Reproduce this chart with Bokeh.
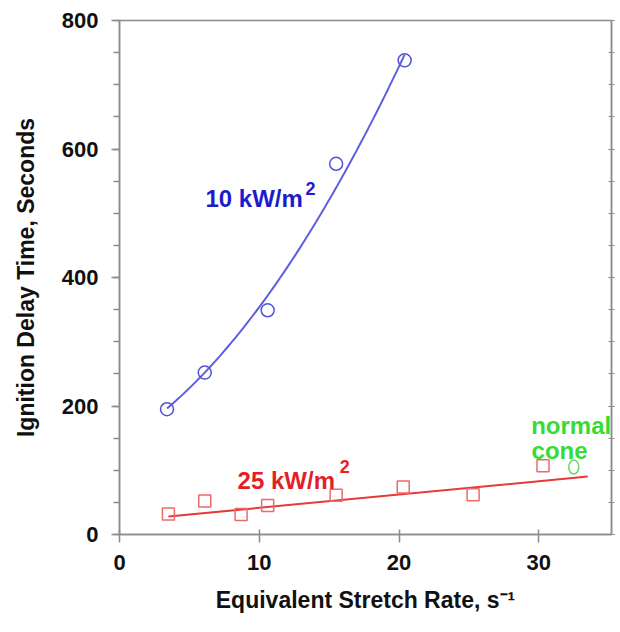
import numpy as np
from bokeh.plotting import figure
from bokeh.models import (LinearAxis, Range1d, SingleIntervalTicker, ColumnDataSource)
from bokeh.core.properties import value
from bokeh.embed import file_html
from bokeh.resources import INLINE

# ---- data ----
blue_x = [3.4, 6.1, 10.6, 15.5, 20.4]          # 10 kW/m2
blue_y = [195, 252, 349, 577, 738]
red_x = [3.5, 6.1, 8.7, 10.6, 15.5, 20.3, 25.3, 30.3]   # 25 kW/m2
red_y = [32, 52, 31, 45, 61, 74, 62, 107]
green_x = [32.5]                                 # normal cone
green_y = [105]

# fitted curves shown in the reference (coefficients, highest power first)
blue_fit = [0.814, 13.03, 142.3]
blue_fit_range = [3.4, 20.4]
red_fit = [2.07, 20.8]
red_fit_range = [3.5, 33.5]

x_ticks = [0, 10, 20, 30]
y_ticks = [0, 200, 400, 600, 800]

FONT = "Liberation Sans"
BLUE_TXT = "#1c1ccc"
RED_TXT = "#e41e26"
GREEN_TXT = "#35dc35"

p = figure(width=620, height=632, x_range=Range1d(0, 35.2), y_range=Range1d(0, 800),
           output_backend="svg", toolbar_location=None,
           min_border_left=119, min_border_top=20, min_border_right=9, min_border_bottom=98,
           background_fill_color="white", border_fill_color="white")
p.xgrid.visible = False
p.ygrid.visible = False
p.outline_line_color = "#8c8c8c"
p.outline_line_width = 1.5

AX = "#8c8c8c"
xa = p.xaxis[0]
xa.ticker = SingleIntervalTicker(interval=10, num_minor_ticks=0)
ya = p.yaxis[0]
ya.ticker = SingleIntervalTicker(interval=200, num_minor_ticks=4)

for ax in (xa, ya):
    ax.axis_line_color = AX
    ax.axis_line_width = 1.5
    ax.major_tick_line_color = AX
    ax.major_tick_line_width = 1.5
    ax.minor_tick_line_color = AX
    ax.minor_tick_line_width = 1.5
    ax.major_label_text_font = FONT
    ax.major_label_text_font_style = "bold"
    ax.major_label_text_font_size = "22px"
    ax.major_label_text_color = "#111111"
    ax.axis_label_text_font = FONT
    ax.axis_label_text_font_style = "bold"
    ax.axis_label_text_font_size = "23px"
    ax.axis_label_text_color = "#111111"

xa.major_tick_in = 5
xa.major_tick_out = 8
xa.major_label_standoff = 12
xa.axis_label = "Equivalent Stretch Rate, s\u207b\u00b9"
xa.axis_label_standoff = 14

ya.major_tick_in = 0
ya.major_tick_out = 8
ya.minor_tick_in = 0
ya.minor_tick_out = 6
ya.major_label_standoff = 13
ya.axis_label = "Ignition Delay Time, Seconds"
ya.axis_label_standoff = 20

ra = LinearAxis(ticker=SingleIntervalTicker(interval=200, num_minor_ticks=4))
ra.axis_line_color = AX
ra.axis_line_width = 1.5
ra.major_tick_line_color = AX
ra.minor_tick_line_color = AX
ra.major_tick_in = 3
ra.major_tick_out = 3
ra.minor_tick_in = 3
ra.minor_tick_out = 3
ra.major_label_text_font_size = "0px"
ra.major_label_text_color = None
p.add_layout(ra, "right")

# fitted curves
bx = np.linspace(blue_fit_range[0], blue_fit_range[1], 60)
p.line(bx, np.polyval(blue_fit, bx), line_color="#5e5ee0", line_width=2)
rx = np.array(red_fit_range)
p.line(rx, np.polyval(red_fit, rx), line_color="#e83838", line_width=2)

# markers
p.scatter(blue_x, blue_y, marker="circle", size=13, fill_color=None,
          line_color="#5252d8", line_width=1.5)
p.scatter(red_x, red_y, marker="square", size=12, fill_color=None,
          line_color="#ee6a6a", line_width=1.5)
p.ellipse(green_x, green_y, width=10, height=14, width_units="screen", height_units="screen",
          fill_color=None, line_color="#66d866", line_width=1.5)

# annotation texts
lab_text = ["10 kW/m", "25 kW/m", "normal", "cone"]
lab_x = [6.15, 8.45, 29.45, 29.48]
lab_y = [523, 84, 169.6, 130.7]
lab_col = [BLUE_TXT, RED_TXT, GREEN_TXT, GREEN_TXT]
p.text(x="x", y="y", text="t", text_color="c",
       source=ColumnDataSource(dict(x=lab_x, y=lab_y, t=lab_text, c=lab_col)),
       text_font=value(FONT), text_font_style="bold", text_font_size="24px",
       text_align="left", text_baseline="alphabetic")

sup_text = ["2", "2"]
sup_x = [13.3, 15.75]
sup_y = [538.5, 105.8]
sup_col = [BLUE_TXT, RED_TXT]
p.text(x="x", y="y", text="t", text_color="c",
       source=ColumnDataSource(dict(x=sup_x, y=sup_y, t=sup_text, c=sup_col)),
       text_font=value(FONT), text_font_style="bold", text_font_size="18px",
       text_align="left", text_baseline="alphabetic")

open("out.html", "w").write(file_html(p, INLINE))
